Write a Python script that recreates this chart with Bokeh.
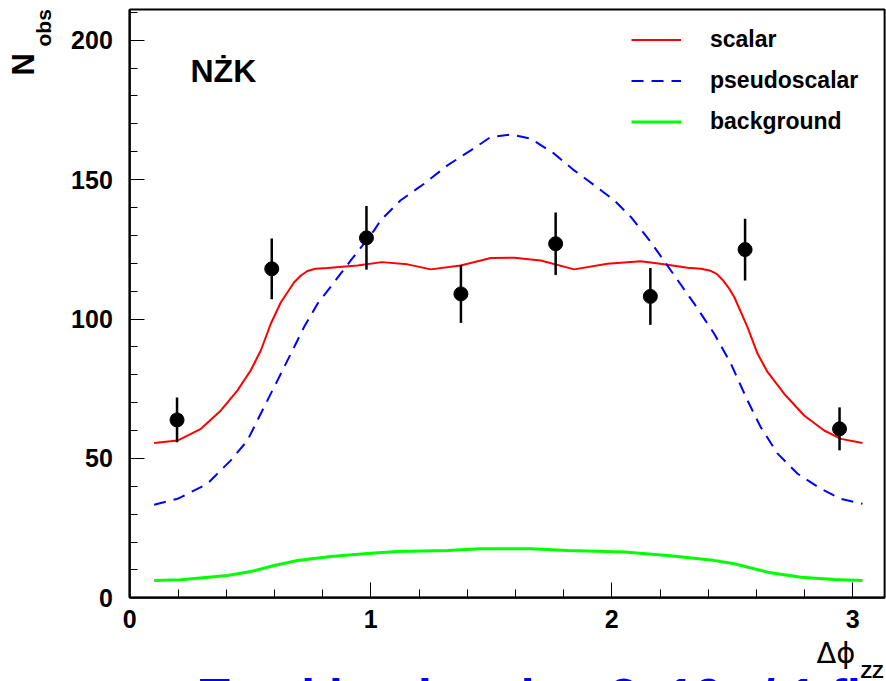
import math
from bokeh.plotting import figure
from bokeh.models import Range1d, FixedTicker, Label, Legend, LegendItem, LinearAxis, BoxAnnotation
from bokeh.embed import file_html
from bokeh.resources import INLINE

# ---- data ----
bin_x = [0.196, 0.589, 0.982, 1.374, 1.767, 2.160, 2.553, 2.945]
n_obs = [63.8, 118.0, 129.1, 109.0, 127.0, 108.1, 124.9, 60.6]
n_err = [8.0, 10.9, 11.4, 10.4, 11.2, 10.2, 11.1, 7.7]

scalar_x = [0.101, 0.198, 0.295, 0.378, 0.447, 0.502, 0.544, 0.585, 0.627, 0.682, 0.710, 0.737,
            0.770, 0.820, 0.945, 1.046, 1.152, 1.249, 1.373, 1.498, 1.595, 1.705, 1.844, 1.982,
            2.120, 2.217, 2.314, 2.370, 2.410, 2.435, 2.460, 2.485, 2.508, 2.563, 2.605, 2.646,
            2.715, 2.798, 2.881, 2.951, 3.040]
scalar_y = [55.5, 56.4, 60.6, 67.2, 74.4, 81.6, 88.8, 98.3, 106.0, 113.2, 115.6, 117.2,
            118.0, 118.3, 119.2, 120.4, 119.6, 117.8, 119.2, 121.9, 122.0, 121.0, 117.8, 119.8,
            120.7, 119.6, 118.4, 118.0, 117.3, 116.2, 114.0, 111.2, 107.9, 97.1, 87.5, 81.0,
            73.2, 65.4, 60.0, 57.0, 55.5]

pseudo_x = [0.101, 0.198, 0.322, 0.419, 0.488, 0.557, 0.613, 0.668, 0.723, 0.779, 0.848, 0.917,
            1.014, 1.041, 1.124, 1.221, 1.318, 1.415, 1.498, 1.581, 1.664, 1.761, 1.844, 1.927,
            2.010, 2.079, 2.162, 2.245, 2.342, 2.425, 2.494, 2.563, 2.618, 2.688, 2.771, 2.867,
            2.951, 3.040]
pseudo_y = [33.4, 35.5, 40.9, 49.3, 56.4, 68.4, 78.0, 87.5, 97.1, 105.5, 113.2, 121.0,
            131.8, 135.4, 142.6, 148.5, 155.1, 160.5, 165.3, 166.2, 164.7, 159.3, 153.3, 148.0,
            142.6, 136.6, 127.6, 117.4, 105.5, 94.7, 84.0, 70.8, 61.2, 51.7, 44.5, 39.1,
            35.5, 33.7]

bkg_x = [0.101, 0.212, 0.405, 0.502, 0.599, 0.696, 0.834, 1.000, 1.110, 1.318, 1.456, 1.581,
         1.664, 1.816, 2.051, 2.231, 2.410, 2.508, 2.646, 2.784, 2.922, 3.040]
bkg_y = [6.2, 6.5, 8.0, 9.4, 11.6, 13.4, 14.8, 16.0, 16.6, 17.0, 17.6, 17.6,
         17.6, 17.0, 16.4, 15.2, 13.6, 12.2, 9.2, 7.4, 6.6, 6.2]

x_major = [0, 1, 2, 3]
x_minor = [0.2, 0.4, 0.6, 0.8, 1.2, 1.4, 1.6, 1.8, 2.2, 2.4, 2.6, 2.8, 3.0]
y_major = [0, 50, 100, 150, 200]
y_minor = [10, 20, 30, 40, 60, 70, 80, 90, 110, 120, 130, 140, 160, 170, 180, 190, 210]

X_MAX = 3.132   # right edge of the frame
Y_MAX = 211.0   # top edge of the frame

# ---- page geometry (pixels) ----
W, H = 886, 681
PX_X0, PX_PER_X = 129.3, 241.0     # pixel of x = 0, pixels per unit
PX_Y0, PX_PER_Y = 597.3, 2.788     # pixel of y = 0, pixels per unit

def px2x(px):
    return (px - PX_X0) / PX_PER_X

def py2y(py):
    return (PX_Y0 - py) / PX_PER_Y

FONT = "Liberation Sans"

p = figure(width=W, height=H,
           x_range=Range1d(px2x(0), px2x(W)), y_range=Range1d(py2y(H), py2y(0)),
           output_backend="svg", toolbar_location=None,
           x_axis_location=None, y_axis_location=None,
           min_border_left=0, min_border_right=0, min_border_top=0, min_border_bottom=0)
p.title.visible = False
p.xgrid.visible = False
p.ygrid.visible = False
p.background_fill_color = "white"
p.border_fill_color = "white"
p.outline_line_color = None

xaxis = LinearAxis(fixed_location=0, bounds=(0, X_MAX),
                   ticker=FixedTicker(ticks=x_major, minor_ticks=x_minor))
yaxis = LinearAxis(fixed_location=0, bounds=(0, Y_MAX),
                   ticker=FixedTicker(ticks=y_major, minor_ticks=y_minor))
p.add_layout(xaxis, "below")
p.add_layout(yaxis, "left")

for ax in (xaxis, yaxis):
    ax.axis_line_color = "black"
    ax.axis_line_width = 2
    ax.major_tick_line_color = "black"
    ax.major_tick_line_width = 1
    ax.minor_tick_line_color = "black"
    ax.minor_tick_line_width = 1
    ax.major_tick_in = 15
    ax.major_tick_out = 0
    ax.minor_tick_in = 8
    ax.minor_tick_out = 0
    ax.major_label_text_font = FONT
    ax.major_label_text_font_style = "bold"
    ax.major_label_text_font_size = "25px"
    ax.major_label_text_color = "black"
xaxis.major_label_standoff = 12
yaxis.major_label_standoff = 17

# frame box (top and right sides)
p.add_layout(BoxAnnotation(left=0, right=X_MAX, bottom=0, top=Y_MAX,
                           fill_color=None, fill_alpha=0,
                           line_color="black", line_width=2, line_alpha=1))

r_s = p.line(scalar_x, scalar_y, line_color="#ff0000", line_width=2)
r_p = p.line(pseudo_x, pseudo_y, line_color="#0000ff", line_width=2, line_dash="12 8")
r_b = p.line(bkg_x, bkg_y, line_color="#00ff00", line_width=3)

lo = [v - e for v, e in zip(n_obs, n_err)]
hi = [v + e for v, e in zip(n_obs, n_err)]
p.segment(x0=bin_x, y0=lo, x1=bin_x, y1=hi, line_color="black", line_width=2.5)
p.scatter(bin_x, n_obs, size=14, fill_color="black", line_color="black")

legend = Legend(items=[LegendItem(label="scalar", renderers=[r_s]),
                       LegendItem(label="pseudoscalar", renderers=[r_p]),
                       LegendItem(label="background", renderers=[r_b])],
                location=(621, 536), orientation="vertical",
                glyph_width=50, glyph_height=27, label_height=27, label_standoff=29,
                spacing=14, padding=10, margin=0,
                label_text_font=FONT, label_text_font_style="bold",
                label_text_font_size="23px", label_text_color="black",
                border_line_alpha=0, background_fill_alpha=0)
p.add_layout(legend, "center")

def text_label(px, py, text, size, font=FONT, style="bold", color="black", angle=0.0):
    # (px, py): pixel of the start of the text, at the bottom of its text box
    return Label(x=px2x(px), y=py2y(py), text=text, angle=angle, text_font=font,
                 text_font_style=style, text_font_size=f"{size}px", text_color=color,
                 text_align="left", text_baseline="bottom")

p.add_layout(text_label(190, 88, "NŻK", 32))

# y axis title  N_obs (rotated, at the top end of the axis)
p.add_layout(text_label(40, 75, "N", 31, angle=math.pi / 2))
p.add_layout(text_label(54, 46, "obs", 21, angle=math.pi / 2))

# x axis title  Δφ_ZZ (at the right end of the axis)
p.add_layout(text_label(816, 669, "Δϕ", 29, font="DejaVu Sans", style="normal"))
p.add_layout(text_label(860, 681, "ZZ", 19))

# blue slide text, cut by the bottom of the page (as in the reference)
p.add_layout(text_label(199, 724, "Total luminosity: 2×10⁴ / 1 fb⁻¹", 50, color="#0000ff"))

open("out.html", "w").write(file_html(p, INLINE))
